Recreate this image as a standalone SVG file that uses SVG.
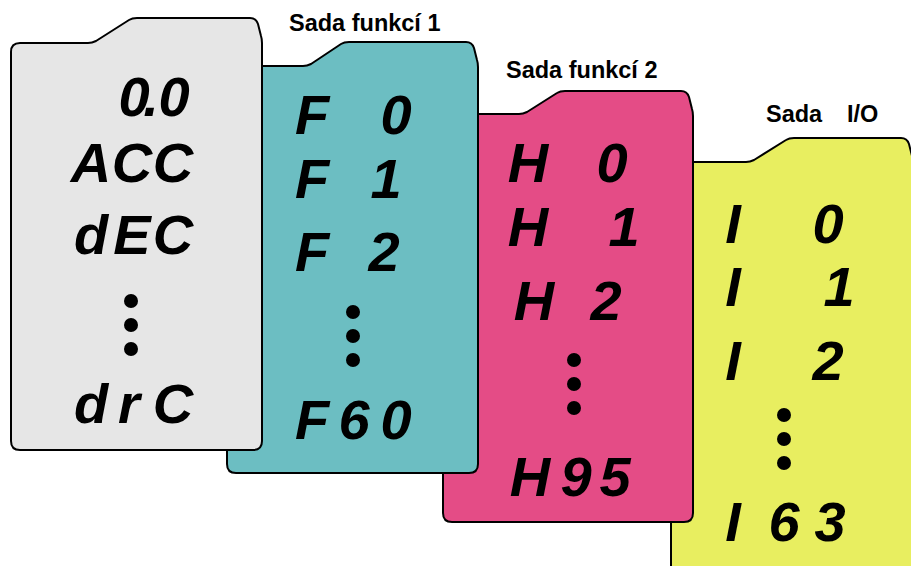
<svg xmlns="http://www.w3.org/2000/svg" width="911" height="566" viewBox="0 0 911 566">
<style>
.card{stroke:#000;stroke-width:2;stroke-linejoin:round}
.seg{font-family:"Liberation Sans",Arial,sans-serif;font-style:italic;font-weight:bold;font-size:56px;fill:#000;text-anchor:middle}
.lbl{font-family:"Liberation Sans",Arial,sans-serif;font-weight:bold;font-size:23.5px;fill:#000}
.dot{fill:#000}
</style>
<rect width="911" height="566" fill="#fff"/>
<g id="io">
<path class="card" fill="#e8ee60" d="M671,171 Q671,162 680,162 H746 Q750,162 754,160 L786,140 Q789,138 794,138 H901 Q907,138 909,144 L912,156 Q913,159 913,163 V565 Q913,574 904,574 H680 Q671,574 671,565 Z"/>
<text class="lbl" y="122"><tspan x="766">Sada</tspan><tspan x="847">I/O</tspan></text>
<text class="seg"><tspan y="243" x="733 781 828">I 0</tspan><tspan y="306" x="733 781 839">I 1</tspan><tspan y="380" x="733 781 828">I 2</tspan><tspan y="541" x="733 784 830">I63</tspan></text>
<circle class="dot" cx="784" cy="415" r="7"/><circle class="dot" cx="784" cy="439" r="7"/><circle class="dot" cx="784" cy="463" r="7"/>
</g>
<g id="sada-funkci-2">
<path class="card" fill="#e44c86" d="M443,123 Q443,114 452,114 H519 Q523,114 527,112 L557,93 Q560,91 565,91 H681 Q687,91 689,97 L692,109 Q693,112 693,116 V513 Q693,522 684,522 H452 Q443,522 443,513 Z"/>
<text class="lbl" x="506" y="78">Sada funkcí 2</text>
<text class="seg"><tspan y="182" x="528 571 612">H 0</tspan><tspan y="246" x="528 571 624">H 1</tspan><tspan y="320" x="534 571 606">H 2</tspan><tspan y="496" x="530 576 615">H95</tspan></text>
<circle class="dot" cx="574" cy="360" r="7"/><circle class="dot" cx="574" cy="384" r="7"/><circle class="dot" cx="574" cy="408" r="7"/>
</g>
<g id="sada-funkci-1">
<path class="card" fill="#6cbec2" d="M227,75 Q227,66 236,66 H303 Q307,66 311,64 L341,44 Q344,42 349,42 H466 Q472,42 474,48 L477,60 Q478,63 478,67 V464 Q478,473 469,473 H236 Q227,473 227,464 Z"/>
<text class="lbl" x="289" y="31">Sada funkcí 1</text>
<text class="seg"><tspan y="134" x="312 354 396">F 0</tspan><tspan y="198" x="312 354 386">F 1</tspan><tspan y="271" x="312 354 384">F 2</tspan><tspan y="439" x="312 354 396">F60</tspan></text>
<circle class="dot" cx="353" cy="312" r="7"/><circle class="dot" cx="353" cy="336" r="7"/><circle class="dot" cx="353" cy="360" r="7"/>
</g>
<g id="drive">
<path class="card" fill="#e6e6e6" d="M11,52 Q11,43 20,43 H88 Q92,43 96,41 L129,20 Q132,18 137,18 H250 Q256,18 258,24 L261,36 Q262,39 262,43 V441 Q262,450 253,450 H20 Q11,450 11,441 Z"/>
<text class="seg"><tspan y="116" x="134 151 174">0.0</tspan><tspan y="182" x="91 132 173">ACC</tspan><tspan y="254" x="91 132 173">dEC</tspan><tspan y="423" x="91 129 173">drC</tspan></text>
<circle class="dot" cx="131" cy="301" r="7"/><circle class="dot" cx="131" cy="325" r="7"/><circle class="dot" cx="131" cy="349" r="7"/>
</g>
</svg>
